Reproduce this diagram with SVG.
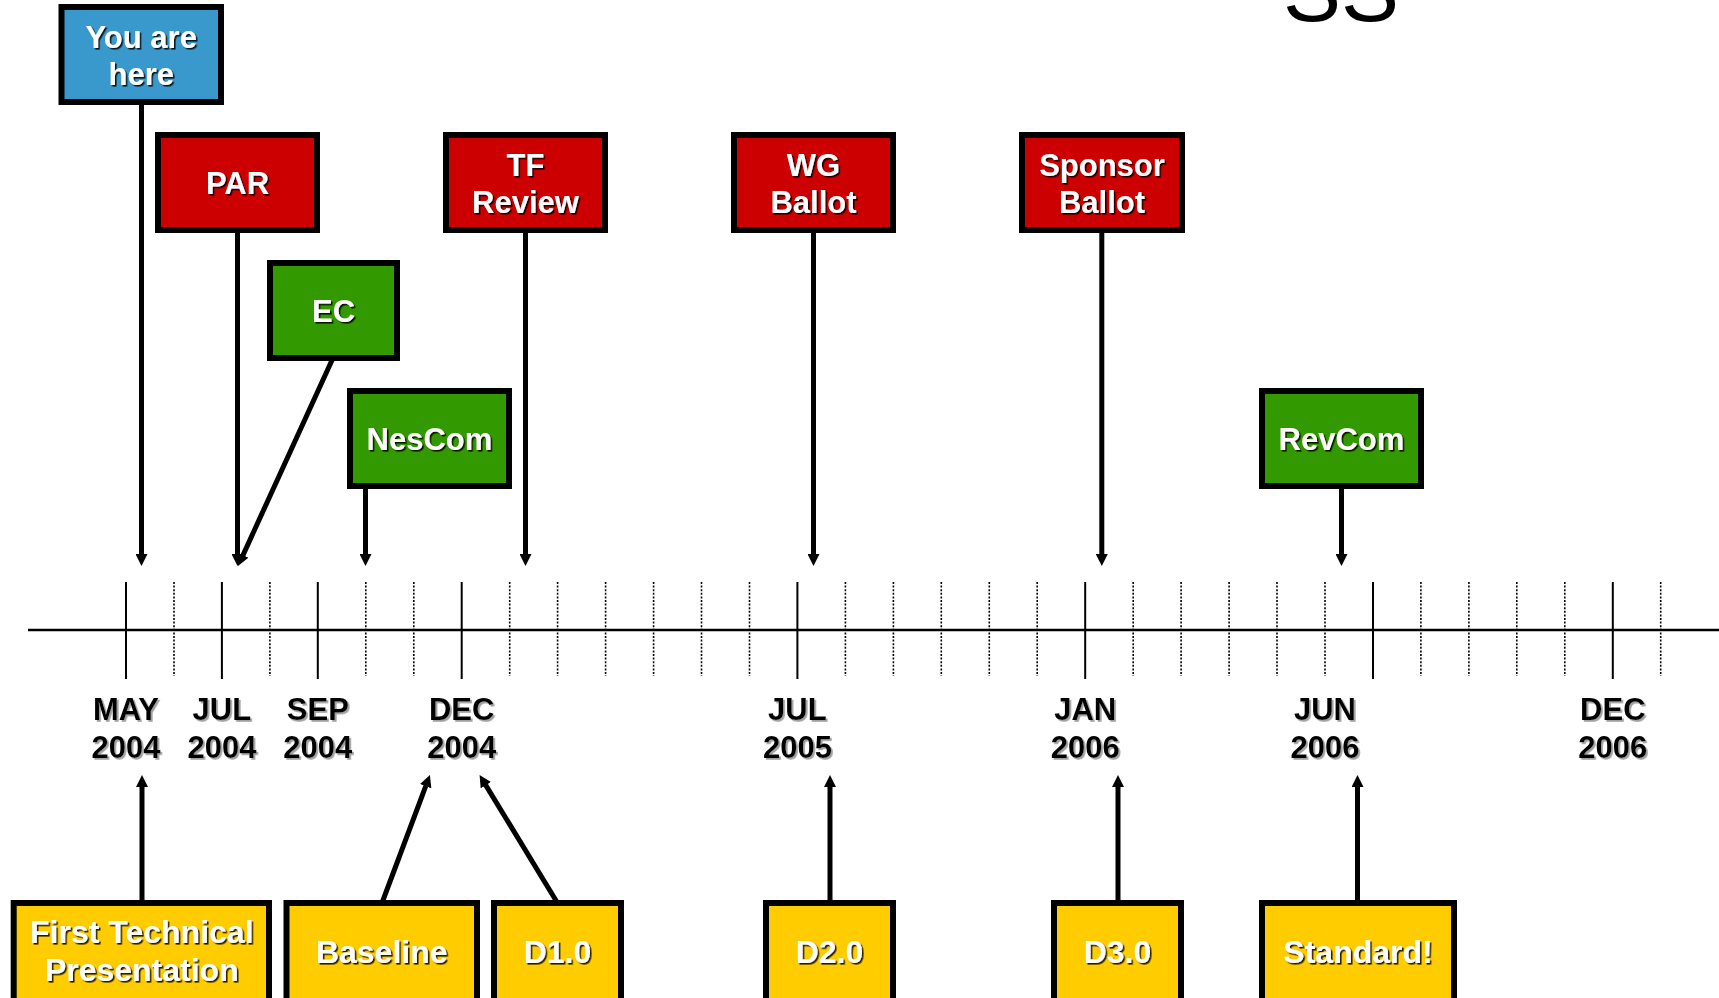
<svg xmlns="http://www.w3.org/2000/svg" width="1719" height="998" viewBox="0 0 1719 998">
  <defs>
    <marker id="ah" viewBox="0 0 12 12" markerWidth="12" markerHeight="12" markerUnits="userSpaceOnUse" refX="6" refY="6" orient="auto">
      <path d="M0,0 L12,6 L0,12 z" fill="#000"/>
    </marker>
    <filter id="sh" x="-10%" y="-20%" width="130%" height="150%">
      <feDropShadow dx="1.6" dy="1.6" stdDeviation="0.4" flood-color="#000" flood-opacity="0.85"/>
    </filter>
    <filter id="shg" x="-10%" y="-20%" width="130%" height="150%">
      <feDropShadow dx="1.8" dy="1.8" stdDeviation="0.5" flood-color="#888" flood-opacity="0.8"/>
    </filter>
  </defs>
  <style>
    .box { stroke: #000; stroke-width: 6; }
    .blue { fill: #3A99CC; }
    .red { fill: #CC0000; }
    .green { fill: #339900; }
    .yellow { fill: #FFCC00; }
    .nt { font-family: "Liberation Sans", Arial, sans-serif; font-weight: bold; font-size: 31px; fill: #fff; text-anchor: middle; filter: url(#sh); }
    .bt { font-size: 32px; }
    .lbl { font-family: "Liberation Sans", Arial, sans-serif; font-weight: bold; font-size: 31px; fill: #000; text-anchor: middle; filter: url(#shg); }
    .title { font-family: "Liberation Sans", Arial, sans-serif; font-size: 87px; fill: #000; }
    .conn { stroke: #000; stroke-width: 5; fill: none; marker-end: url(#ah); }
    .axis { stroke: #000; stroke-width: 2.5; }
    .tick { stroke: #000; stroke-width: 2; fill: none; }
    .dot { stroke: #000; stroke-width: 1.6; stroke-dasharray: 2 1.6; fill: none; }
  </style>
  <rect width="1719" height="998" fill="#fff"/>

  <text class="title" x="1283" y="21">SS</text>

  <g id="timeline">
    <line class="axis" x1="28" y1="630" x2="1719" y2="630"/>
    <path class="tick" d="M126,582V679 M221.9,582V679 M317.8,582V679 M461.7,582V679 M797.4,582V679 M1085.2,582V679 M1373,582V679 M1612.8,582V679"/>
    <path class="dot" d="M174,582V676 M269.9,582V676 M365.8,582V676 M413.8,582V676 M509.7,582V676 M557.6,582V676 M605.6,582V676 M653.6,582V676 M701.5,582V676 M749.5,582V676 M845.4,582V676 M893.4,582V676 M941.3,582V676 M989.3,582V676 M1037.2,582V676 M1133.2,582V676 M1181.1,582V676 M1229.1,582V676 M1277,582V676 M1325,582V676 M1420.9,582V676 M1468.9,582V676 M1516.8,582V676 M1564.8,582V676 M1660.7,582V676"/>
    <text class="lbl" x="126" y="720">MAY</text><text class="lbl" x="126" y="758">2004</text>
    <text class="lbl" x="221.9" y="720">JUL</text><text class="lbl" x="221.9" y="758">2004</text>
    <text class="lbl" x="317.8" y="720">SEP</text><text class="lbl" x="317.8" y="758">2004</text>
    <text class="lbl" x="461.7" y="720">DEC</text><text class="lbl" x="461.7" y="758">2004</text>
    <text class="lbl" x="797.4" y="720">JUL</text><text class="lbl" x="797.4" y="758">2005</text>
    <text class="lbl" x="1085.2" y="720">JAN</text><text class="lbl" x="1085.2" y="758">2006</text>
    <text class="lbl" x="1325" y="720">JUN</text><text class="lbl" x="1325" y="758">2006</text>
    <text class="lbl" x="1612.8" y="720">DEC</text><text class="lbl" x="1612.8" y="758">2006</text>
  </g>

  <g id="connectors">
    <line class="conn" x1="141.5" y1="102" x2="141.5" y2="560"/>
    <line class="conn" x1="237.5" y1="230" x2="237.5" y2="560"/>
    <line class="conn" x1="333" y1="358" x2="240.5" y2="560.6"/>
    <line class="conn" x1="365.5" y1="486" x2="365.5" y2="560"/>
    <line class="conn" x1="525.5" y1="230" x2="525.5" y2="560"/>
    <line class="conn" x1="813.5" y1="230" x2="813.5" y2="560"/>
    <line class="conn" x1="1101.8" y1="230" x2="1101.8" y2="560"/>
    <line class="conn" x1="1341.5" y1="486" x2="1341.5" y2="560"/>
    <line class="conn" x1="142" y1="903" x2="142" y2="781"/>
    <line class="conn" x1="382" y1="903" x2="427.8" y2="780.6"/>
    <line class="conn" x1="557.5" y1="903" x2="482.7" y2="780.1"/>
    <line class="conn" x1="830" y1="903" x2="830" y2="781"/>
    <line class="conn" x1="1118" y1="903" x2="1118" y2="781"/>
    <line class="conn" x1="1357.5" y1="903" x2="1357.5" y2="781"/>
  </g>

  <g id="you-are-here">
    <rect class="box blue" x="61.5" y="7" width="159.5" height="95"/>
    <text class="nt" x="141.2" y="48">You are</text>
    <text class="nt" x="141.2" y="85">here</text>
  </g>
  <g id="par">
    <rect class="box red" x="158" y="135" width="159" height="95"/>
    <text class="nt" x="237.5" y="194">PAR</text>
  </g>
  <g id="ec">
    <rect class="box green" x="270" y="263" width="127" height="95"/>
    <text class="nt" x="333.5" y="322">EC</text>
  </g>
  <g id="nescom">
    <rect class="box green" x="350" y="391" width="159" height="95"/>
    <text class="nt" x="429.5" y="450">NesCom</text>
  </g>
  <g id="tf-review">
    <rect class="box red" x="446" y="135" width="159" height="95"/>
    <text class="nt" x="525.5" y="176">TF</text>
    <text class="nt" x="525.5" y="213">Review</text>
  </g>
  <g id="wg-ballot">
    <rect class="box red" x="734" y="135" width="159" height="95"/>
    <text class="nt" x="813.5" y="176">WG</text>
    <text class="nt" x="813.5" y="213">Ballot</text>
  </g>
  <g id="sponsor-ballot">
    <rect class="box red" x="1022" y="135" width="160" height="95"/>
    <text class="nt" x="1102" y="176">Sponsor</text>
    <text class="nt" x="1102" y="213">Ballot</text>
  </g>
  <g id="revcom">
    <rect class="box green" x="1262" y="391" width="159" height="95"/>
    <text class="nt" x="1341.5" y="450">RevCom</text>
  </g>

  <g id="first-technical-presentation">
    <rect class="box yellow" x="13.7" y="903" width="255.3" height="110"/>
    <text class="nt bt" x="141.8" y="943">First Technical</text>
    <text class="nt bt" x="141.8" y="981">Presentation</text>
  </g>
  <g id="baseline">
    <rect class="box yellow" x="286.5" y="903" width="190.5" height="110"/>
    <text class="nt bt" x="381.7" y="963">Baseline</text>
  </g>
  <g id="d1-0">
    <rect class="box yellow" x="494" y="903" width="127" height="110"/>
    <text class="nt bt" x="557.5" y="963">D1.0</text>
  </g>
  <g id="d2-0">
    <rect class="box yellow" x="766" y="903" width="127" height="110"/>
    <text class="nt bt" x="829.5" y="963">D2.0</text>
  </g>
  <g id="d3-0">
    <rect class="box yellow" x="1054" y="903" width="127" height="110"/>
    <text class="nt bt" x="1117.5" y="963">D3.0</text>
  </g>
  <g id="standard">
    <rect class="box yellow" x="1262" y="903" width="192" height="110"/>
    <text class="nt bt" x="1358" y="963">Standard!</text>
  </g>
</svg>
